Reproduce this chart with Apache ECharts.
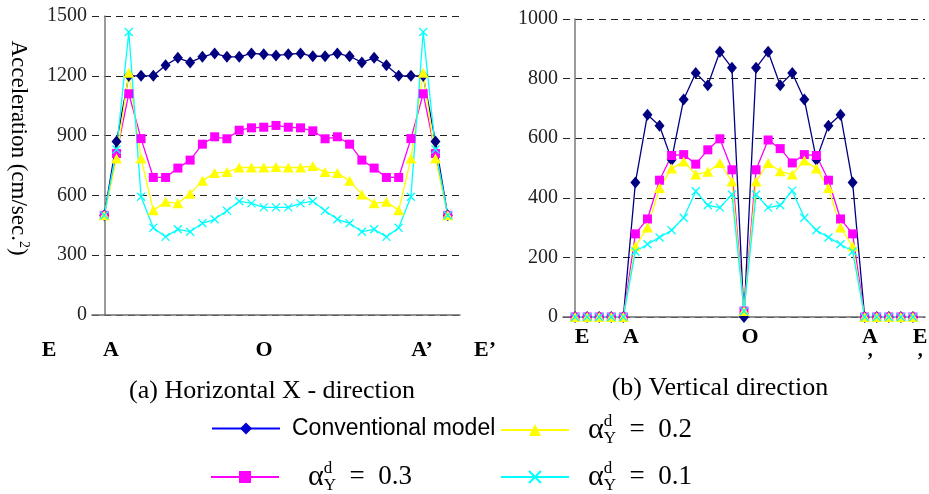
<!DOCTYPE html>
<html>
<head>
<meta charset="utf-8">
<script src="https://cdn.jsdelivr.net/npm/echarts@6/dist/echarts.min.js"></script>
<style>
  html, body { margin: 0; padding: 0; background: #fff; }
  #chart { width: 929px; height: 494px; }
</style>
</head>
<body>
<div id="chart"></div>
<script>
// tick values of the two acceleration axes
const leftTicks = [0, 300, 600, 900, 1200, 1500];
const rightTicks = [0, 200, 400, 600, 800, 1000];

// series names
const names = ['Conventional model', 'α = 0.3', 'α = 0.2', 'α = 0.1'];

// (a) horizontal X-direction, 29 stations E .. A .. O .. A' .. E'
const hConv = [500, 870, 1200, 1200, 1200, 1253, 1290, 1267, 1295, 1312, 1295, 1295, 1312, 1308, 1302,
               1308, 1312, 1298, 1298, 1312, 1298, 1267, 1290, 1253, 1200, 1200, 1200, 870, 500];
const hA03 = [500, 810, 1110, 885, 690, 690, 737, 777, 857, 894, 884, 927, 939, 942, 951,
              942, 939, 924, 884, 894, 857, 777, 737, 690, 690, 885, 1110, 810, 500];
const hA02 = [500, 785, 1215, 785, 525, 568, 560, 608, 673, 713, 717, 740, 740, 740, 743,
              740, 740, 747, 717, 713, 673, 605, 560, 568, 525, 785, 1215, 785, 500];
const hA01 = [500, 830, 1420, 593, 438, 392, 430, 418, 460, 480, 523, 571, 560, 540, 540,
              540, 560, 571, 523, 480, 460, 418, 430, 392, 438, 593, 1420, 830, 500];

// (b) vertical direction
const vConv = [0, 0, 0, 0, 0, 451, 679, 642, 528, 730, 819, 778, 890, 836, 0,
               836, 890, 778, 819, 730, 528, 642, 679, 451, 0, 0, 0, 0, 0];
const vA03 = [0, 0, 0, 0, 0, 279, 329, 459, 542, 545, 513, 561, 598, 494, 20,
              494, 594, 565, 517, 545, 542, 459, 329, 279, 0, 0, 0, 0, 0];
const vA02 = [0, 0, 0, 0, 0, 237, 300, 433, 498, 522, 478, 487, 517, 455, 20,
              455, 517, 489, 478, 525, 498, 433, 300, 237, 0, 0, 0, 0, 0];
const vA01 = [0, 0, 0, 0, 0, 220, 244, 267, 291, 333, 422, 375, 367, 411, 20,
              411, 367, 375, 424, 333, 291, 267, 244, 220, 0, 0, 0, 0, 0];

const looks = [
    { color: '#000080', symbol: 'diamond', size: [10, 12], border: 0 },
    { color: '#ff00ff', symbol: 'rect', size: 9, border: 0 },
    { color: '#ffff00', symbol: 'triangle', size: [11, 10], border: 0 },
    { color: '#00ffff', symbol: 'path://M0,0L10,10M10,0L0,10', size: 8, border: 1.3 }
];

function makeSeries(values, k, axis) {
    const look = looks[k];
    return {
        name: names[k],
        type: 'line',
        xAxisIndex: axis,
        yAxisIndex: axis,
        data: values.map((v, i) => [i, v]),
        symbol: look.symbol,
        symbolSize: look.size,
        lineStyle: { color: look.color, width: 1.3 },
        itemStyle: { color: look.color, borderColor: look.color, borderWidth: look.border },
        emphasis: { disabled: true }
    };
}

const serif = '"Liberation Serif", "DejaVu Serif", serif';

function xAxisFor(grid) {
    return {
        type: 'value', gridIndex: grid, min: -1, max: 29,
        axisLine: { show: true, lineStyle: { color: '#6e6e6e', width: 1.6 } },
        axisTick: { show: false },
        axisLabel: { show: false },
        splitLine: { show: false }
    };
}

function yAxisFor(grid, ticks) {
    return {
        type: 'value', gridIndex: grid,
        min: ticks[0], max: ticks[ticks.length - 1], interval: ticks[1] - ticks[0],
        axisLine: { show: true, lineStyle: { color: '#7a7a7a', width: 1.5 } },
        axisTick: { show: false },
        axisLabel: {
            color: '#222', fontFamily: serif, fontSize: 20, margin: 5,
            formatter: function (v) { return String(v); }
        },
        splitLine: { show: true, lineStyle: { color: '#222', width: 1, type: [7, 5] } }
    };
}

const alphaRich = {
    a: { fontFamily: serif, fontSize: 30, lineHeight: 34, color: '#000' },
    d: { fontFamily: serif, fontSize: 17, lineHeight: 17, verticalAlign: 'top', width: 0, color: '#000' },
    y: { fontFamily: serif, fontSize: 17, lineHeight: 17, verticalAlign: 'bottom', color: '#000' },
    t: { fontFamily: serif, fontSize: 27, lineHeight: 34, color: '#000' }
};

function legendFor(k, left, top, pad) {
    const look = looks[k];
    const color = k === 0 ? '#0000ff' : look.color;
    return {
        left: left, top: top,
        padding: 0,
        itemWidth: 68, itemHeight: 15,
        selectedMode: false,
        data: [{
            name: names[k],
            itemStyle: { color: k === 0 ? '#0000d0' : color, borderColor: color },
            lineStyle: { color: color, width: 2 }
        }],
        formatter: function (name) {
            if (k === 0) {
                return '{c|' + name + '}';
            }
            return '{a|α}{d|d}{y|Y}{t|  =  ' + name.split('= ')[1] + '}';
        },
        textStyle: {
            padding: [0, 0, 0, pad],
            rich: Object.assign({
                c: { fontFamily: '"Liberation Sans", Arial, sans-serif', fontSize: 23, lineHeight: 34, color: '#000' }
            }, alphaRich)
        }
    };
}

function label(text, x, y, size, bold) {
    return {
        type: 'text', x: x, y: y,
        style: {
            text: text,
            font: (bold ? 'bold ' : '') + size + 'px ' + serif,
            fill: '#000',
            align: 'center', textAlign: 'center',
            verticalAlign: 'middle', textVerticalAlign: 'middle'
        }
    };
}

const chart = echarts.init(document.getElementById('chart'));

const option = {
    animation: false,
    backgroundColor: '#fff',
    grid: [
        { left: 92, top: 16, width: 368, height: 299 },
        { left: 563, top: 19, width: 362, height: 298 }
    ],
    xAxis: [xAxisFor(0), xAxisFor(1)],
    yAxis: [yAxisFor(0, leftTicks), yAxisFor(1, rightTicks)],
    legend: [
        legendFor(0, 211, 417, 7),
        legendFor(2, 500, 413, 14),
        legendFor(1, 210, 460, 24),
        legendFor(3, 500, 460, 14)
    ],
    graphic: [
        // y axis name, reads top to bottom
        {
            type: 'text', x: 18, y: 148, rotation: -Math.PI / 2,
            style: {
                text: '{a|Acceleration (cm/sec.}{s|2}{a|)}',
                rich: {
                    a: { fontFamily: serif, fontSize: 23, lineHeight: 26, fill: '#000' },
                    s: { fontFamily: serif, fontSize: 14, lineHeight: 14, verticalAlign: 'top', fill: '#000' }
                },
                align: 'center', textAlign: 'center',
                verticalAlign: 'middle', textVerticalAlign: 'middle'
            }
        },
        // section points, chart (a)
        label('E', 49, 350, 22, true),
        label('A', 111, 350, 22, true),
        label('O', 264, 350, 22, true),
        label('A’', 422, 350, 22, true),
        label('E’', 485, 350, 22, true),
        // section points, chart (b)
        label('E', 582, 337, 22, true),
        label('A', 631, 337, 22, true),
        label('O', 750, 337, 22, true),
        label('A', 870, 337, 22, true),
        label('E', 920, 337, 22, true),
        label('’', 870, 362, 20, true),
        label('’', 920, 362, 20, true),
        // sub-captions
        label('(a) Horizontal X - direction', 272, 391, 26, false),
        label('(b) Vertical direction', 720, 388, 26, false)
    ],
    series: [
        makeSeries(hConv, 0, 0),
        makeSeries(hA03, 1, 0),
        makeSeries(hA02, 2, 0),
        makeSeries(hA01, 3, 0),
        makeSeries(vConv, 0, 1),
        makeSeries(vA03, 1, 1),
        makeSeries(vA02, 2, 1),
        makeSeries(vA01, 3, 1)
    ]
};

chart.setOption(option);
</script>
</body>
</html>
